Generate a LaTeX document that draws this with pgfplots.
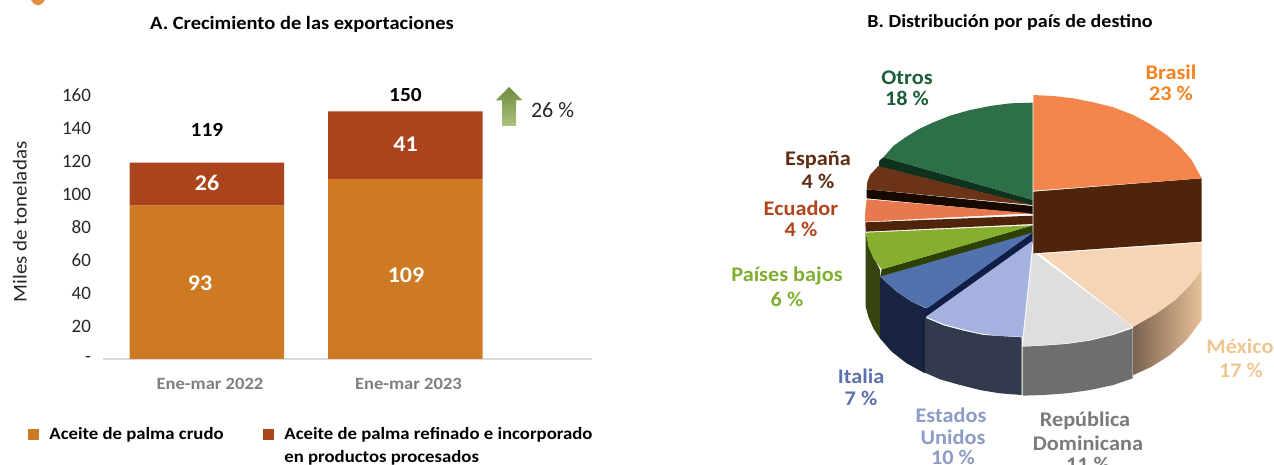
\documentclass[border=0pt]{standalone}
\usepackage{graphicx}
\usepackage{pgfplots}
\pgfplotsset{compat=1.18}
\usepackage{fontspec}
\setmainfont{Carlito}
\definecolor{crudo}{HTML}{CE7A22}
\definecolor{refi}{HTML}{AB431C}
\definecolor{tickc}{HTML}{262626}
\definecolor{catc}{HTML}{7F7F7F}
\newcommand{\T}[5]{\node[font=\fontsize{#4}{#4}\selectfont\bfseries,text=#5,anchor=center,inner sep=0pt] at (axis cs:#1,#2) {\scalebox{1.07}[1]{#3}};}
\newcommand{\Tw}[6]{\node[font=\fontsize{#4}{#4}\selectfont\bfseries,text=#5,anchor=#6,inner sep=0pt] at (axis cs:#1,#2) {\scalebox{1.09}[1]{#3}};}
\begin{document}
\begin{tikzpicture}[x=1pt,y=1pt]
\useasboundingbox (0,0) rectangle (637,232.5);
% A. bars
\begin{axis}[
  at={(51.5pt,53pt)},anchor=south west,scale only axis,
  width=244.5pt,height=132pt,
  xmin=-0.524,xmax=1.94,ymin=0,ymax=160,
  ybar stacked,bar width=77.25pt,
  axis y line*=left,axis x line*=bottom,
  y axis line style={draw=none},
  x axis line style={draw=black!15,line width=0.7pt,-},
  tick style={draw=none},
  ytick={0,20,40,60,80,100,120,140,160},
  yticklabels={-,20,40,60,80,100,120,140,160},
  xtick={0,1},xticklabels={\scalebox{1.08}[1]{Ene-mar 2022},\scalebox{1.08}[1]{Ene-mar 2023}},
  y tick label style={font=\fontsize{9.5}{9.5}\selectfont,text=tickc,xshift=-2.5pt},
  x tick label style={font=\fontsize{8.6}{8.6}\selectfont\bfseries,text=catc,yshift=-6pt,xshift=1.5pt},
  clip=false,
]
\addplot[fill=crudo,draw=none] coordinates {(0,93) (1,109)};
\addplot[fill=refi,draw=none] coordinates {(0,26) (1,41)};
\end{axis}
% B. pie: axis units are 1/3 px of the picture region
\begin{axis}[
  at={(420pt,0pt)},anchor=south west,scale only axis,
  width=200pt,height=207.5pt,hide axis,
  xmin=0,xmax=1200,ymin=0,ymax=1245,y dir=reverse,
  clip=true,
]
\addplot[fill={rgb,255:red,45;green,112;blue,72},draw=none] coordinates {(578,158) (510,160) (450,168) (390,180) (330,197) (280,217) (235,238) (195,263) (160,288) (130,322) (578,450)} -- cycle;
\addplot[fill={rgb,255:red,14;green,50;blue,30},draw=none] coordinates {(118,332) (130,322) (578,450) (578,466) (116,350)} -- cycle;
\addplot[fill={rgb,255:red,23;green,8;blue,0},draw=none] coordinates {(80,418) (578,468) (578,492) (80,445)} -- cycle;
\addplot[fill={rgb,255:red,107;green,51;blue,24},draw=none] coordinates {(578,465) (80,418) (82,395) (90,375) (115,348)} -- cycle;
\addplot[fill={rgb,255:red,80;green,35;blue,11},draw=none] coordinates {(76,517) (578,497) (578,522) (77,545)} -- cycle;
\addplot[fill={rgb,255:red,232;green,121;blue,79},draw=none] coordinates {(575,490) (75,515) (76,480) (80,448)} -- cycle;
\addplot[fill={rgb,255:red,54;green,69;blue,15},draw=none] coordinates {(77,548) (90,595) (105,630) (120,660) (120,865) (100,835) (85,800) (77,770)} -- cycle;
\addplot[fill={rgb,255:red,45;green,65;blue,5},draw=none] coordinates {(578,526) (578,552) (120,684) (125,658)} -- cycle;
\addplot[fill={rgb,255:red,134;green,174;blue,47},draw=none] coordinates {(578,526) (125,658) (100,625) (85,590) (77,548)} -- cycle;
\addplot[fill={rgb,255:red,24;green,35;blue,64},draw=none] coordinates {(120,680) (170,725) (215,755) (258,775) (255,970) (200,940) (155,905) (120,865)} -- cycle;
\addplot[fill={rgb,255:red,16;green,30;blue,70},draw=none] coordinates {(578,548) (578,578) (256,804) (258,775)} -- cycle;
\addplot[fill={rgb,255:red,82;green,114;blue,174},draw=none] coordinates {(578,548) (262,775) (215,755) (170,725) (120,680)} -- cycle;
\addplot[fill={rgb,255:red,51;green,58;blue,78},draw=none] coordinates {(255,803) (310,826) (370,842) (430,855) (545,862) (545,1035) (480,1030) (420,1020) (360,1005) (300,988) (255,968)} -- cycle;
\addplot[fill={rgb,255:red,165;green,178;blue,223},draw=none] coordinates {(578,572) (548,860) (480,858) (420,850) (370,838) (310,822) (258,800)} -- cycle;
\addplot[fill={rgb,255:red,110;green,110;blue,110},draw=none] coordinates {(548,890) (610,887) (680,882) (750,872) (820,855) (878,835) (878,985) (820,1005) (750,1020) (680,1030) (610,1035) (548,1037)} -- cycle;
\addplot[fill={rgb,255:red,222;green,222;blue,222},draw=none] coordinates {(578,605) (878,830) (820,852) (750,870) (680,880) (610,885) (548,888)} -- cycle;
\addplot[left color={rgb,255:red,124;green,99;blue,80},middle color={rgb,255:red,146;green,118;blue,94},right color={rgb,255:red,232;green,193;blue,152},draw=none] coordinates {(880,830) (950,790) (1005,750) (1050,705) (1085,660) (1085,810) (1040,870) (990,915) (935,950) (880,975)} -- cycle;
\addplot[fill={rgb,255:red,245;green,213;blue,181},draw=none] coordinates {(600,612) (1085,578) (1085,660) (1050,705) (1005,750) (950,790) (880,830)} -- cycle;
\addplot[fill={rgb,255:red,80;green,35;blue,11},draw=none] coordinates {(580,425) (1085,385) (1085,575) (580,610)} -- cycle;
\addplot[fill={rgb,255:red,244;green,133;blue,76},draw=none] coordinates {(580,135) (640,138) (700,145) (760,157) (820,172) (880,195) (930,222) (980,255) (1020,290) (1055,330) (1085,385) (580,422)} -- cycle;
\end{axis}
% Text and small shapes: axis units are picture pixels
\begin{axis}[
  at={(0pt,0pt)},anchor=south west,scale only axis,
  width=637pt,height=232.5pt,hide axis,
  xmin=0,xmax=1274,ymin=0,ymax=465,y dir=reverse,clip=false,
]
% decorative dot cut by the top edge
\addplot[fill={rgb,255:red,226;green,144;blue,70},draw=none] coordinates {(31,0) (34,4) (38,5.5) (42,4) (45,0)} -- cycle;
% arrow
\addplot[top color={rgb,255:red,110;green,139;blue,61},bottom color={rgb,255:red,172;green,194;blue,125},draw=none] coordinates {(509,87) (522.5,100.5) (516,100.5) (516,126) (502,126) (502,100.5) (495.5,100.5)} -- cycle;
% legend keys
\addplot[fill=crudo,draw=none] coordinates {(28,429) (39,429) (39,440) (28,440)} -- cycle;
\addplot[fill=refi,draw=none] coordinates {(263,429) (274,429) (274,440) (263,440)} -- cycle;
\Tw{302}{24}{A. Crecimiento de las exportaciones}{9.4}{black}{center}
\Tw{1010}{22}{B. Distribución por país de destino}{9.2}{black}{center}
\T{207}{130}{119}{10}{black}
\T{405.5}{95}{150}{10}{black}
\T{207}{183}{26}{11.2}{white}
\T{405.5}{144}{41}{11.2}{white}
\T{200}{283}{93}{11.2}{white}
\T{406}{275}{109}{11.2}{white}
\node[font=\fontsize{11}{11}\selectfont,text=tickc,anchor=center,inner sep=0pt] at (axis cs:552.5,110) {26 \%};
\node[font=\fontsize{9.8}{9.8}\selectfont,text=tickc,anchor=center,inner sep=0pt,rotate=90] at (axis cs:20,222) {\scalebox{1.07}[1]{Miles de toneladas}};
\Tw{49}{435}{Aceite de palma crudo}{8.6}{black}{west}
\Tw{284}{435}{Aceite de palma refinado e incorporado}{8.6}{black}{west}
\Tw{284}{458}{en productos procesados}{8.6}{black}{west}
\definecolor{cO}{HTML}{1D5E38}\definecolor{cB}{HTML}{F58220}\definecolor{cE}{HTML}{5F2C14}\definecolor{cC}{HTML}{B0451E}
\definecolor{cP}{HTML}{7FAE30}\definecolor{cI}{HTML}{5B72AC}\definecolor{cU}{HTML}{8D9CC6}\definecolor{cR}{HTML}{7A7A7A}\definecolor{cM}{HTML}{F0C592}
\T{907}{78}{Otros}{10.4}{cO}
\T{907}{98}{18 \%}{10.4}{cO}
\T{1171}{72}{Brasil}{10.4}{cB}
\T{1171}{93}{23 \%}{10.4}{cB}
\T{818}{160}{España}{10.4}{cE}
\T{818}{181}{4 \%}{10.4}{cE}
\T{801}{208}{Ecuador}{10.4}{cC}
\T{801}{229}{4 \%}{10.4}{cC}
\T{787}{276}{Países bajos}{10.4}{cP}
\T{787}{299}{6 \%}{10.4}{cP}
\T{861}{376}{Italia}{10.4}{cI}
\T{861}{398}{7 \%}{10.4}{cI}
\T{951}{415}{Estados}{10.4}{cU}
\T{953}{437}{Unidos}{10.4}{cU}
\T{953}{457}{10 \%}{10.4}{cU}
\T{1085}{421}{República}{10.4}{cR}
\T{1088}{443}{Dominicana}{10.4}{cR}
\T{1088}{464}{11 \%}{10.4}{cR}
\T{1240}{346}{México}{10.4}{cM}
\T{1241}{370}{17 \%}{10.4}{cM}
\end{axis}
\end{tikzpicture}
\end{document}
